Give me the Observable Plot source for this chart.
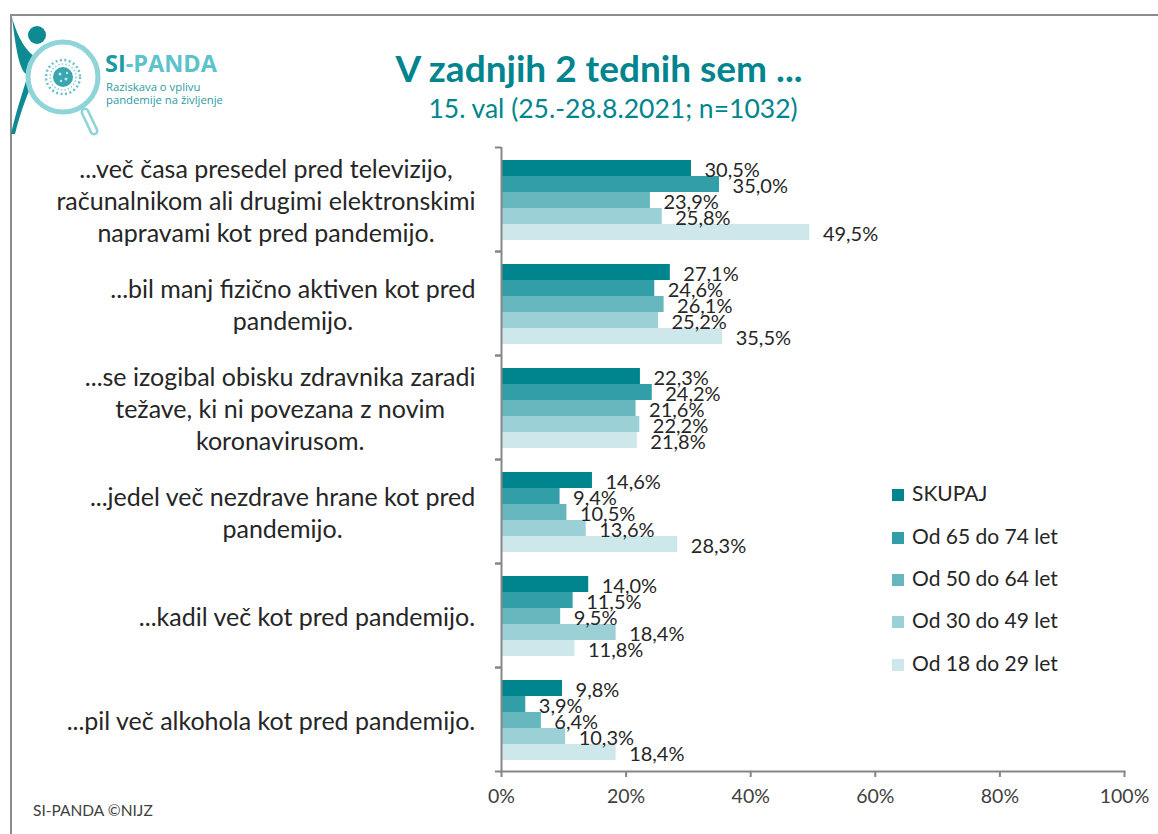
<!DOCTYPE html>
<html><head><meta charset="utf-8">
<script src="https://cdn.jsdelivr.net/npm/d3@7"></script>
<script src="https://cdn.jsdelivr.net/npm/@observablehq/plot@0.6"></script>
<style>
body{margin:0;background:#fff;font-family:Lato,"Open Sans",sans-serif;}
#wrap{position:relative;width:1158px;height:834px;overflow:hidden;background:#fff;}
#chart{position:absolute;left:0;top:0;}
.frameTop{position:absolute;left:10px;top:14px;width:1148px;height:2px;background:#8c8c8c;}
.frameLeft{position:absolute;left:10px;top:14px;width:2px;height:820px;background:#8c8c8c;}
#title{position:absolute;left:299px;width:600px;top:46px;text-align:center;color:#00858f;font-weight:bold;font-size:37px;line-height:44px;}
#subtitle{position:absolute;left:313px;width:600px;top:92px;text-align:center;color:#00858f;font-size:26.5px;line-height:32px;}
#footer{position:absolute;left:33px;top:801px;font-size:15.5px;color:#404040;}
#legend{position:absolute;left:892px;top:0;}
.lg{position:absolute;left:0;white-space:nowrap;font-size:21px;color:#262626;height:24px;line-height:24px;}
.lg span{display:inline-block;width:12px;height:12px;margin-right:8px;vertical-align:0px;}
#logo{position:absolute;left:0;top:0;}
</style></head>
<body><div id="wrap">
<div id="chart"></div>
<div class="frameTop"></div><div class="frameLeft"></div>
<svg id="logo" width="240" height="140" viewBox="0 0 240 140">
  <path d="M12,17 C18,40 28,52 34,56 C30,64 27,70 26,74 C20,70 16,52 12,17 Z" fill="#0e8a93"/>
  <path d="M27,78 C22,94 16,112 11,134 L15,134 C20,114 26,98 31,86 Z" fill="#0e8a93"/>
  <circle cx="37" cy="35" r="9" fill="#0e8a93"/>
  <circle cx="63" cy="77" r="35" fill="#fff" stroke="#8fd4d9" stroke-width="5"/>
  <line x1="85" y1="112" x2="94" y2="131" stroke="#8fd4d9" stroke-width="9" stroke-linecap="round"/>
  <line x1="85" y1="112" x2="94" y2="131" stroke="#fff" stroke-width="4" stroke-linecap="round"/>
  <circle cx="63" cy="77" r="17" fill="none" stroke="#6cc0c7" stroke-width="2.5" stroke-dasharray="2 2.5"/>
  <circle cx="63" cy="77" r="13" fill="none" stroke="#8fd0d5" stroke-width="1.5" stroke-dasharray="1.5 2"/>
  <circle cx="63" cy="77" r="10" fill="#3aa6ae"/>
  <circle cx="60" cy="74" r="1.5" fill="#bfe6e9"/><circle cx="66" cy="79" r="1.5" fill="#bfe6e9"/><circle cx="61" cy="81" r="1.2" fill="#bfe6e9"/><circle cx="67" cy="73" r="1.2" fill="#bfe6e9"/>
  <text x="105" y="72" font-family="'Open Sans',Lato,sans-serif" font-weight="bold" font-size="23.5"><tspan fill="#1a9aa3">SI</tspan><tspan fill="#5cc3cb">-PANDA</tspan></text>
  <text x="106" y="91" font-family="'Open Sans',Lato,sans-serif" font-size="11.3" fill="#2a9ca4">Raziskava o vplivu</text>
  <text x="106" y="104" font-family="'Open Sans',Lato,sans-serif" font-size="11.3" fill="#2a9ca4">pandemije na življenje</text>
</svg>
<div id="title">V zadnjih 2 tednih sem ...</div>
<div id="subtitle">15. val (25.-28.8.2021; n=1032)</div>
<div id="legend"></div>
<div id="footer">SI-PANDA ©NIJZ</div>
</div>
<script>
const categories = [
  "...več časa presedel pred televizijo,\nračunalnikom ali drugimi elektronskimi\nnapravami kot pred pandemijo.",
  "...bil manj fizično aktiven kot pred\npandemijo.",
  "...se izogibal obisku zdravnika zaradi\ntežave, ki ni povezana z novim\nkoronavirusom.",
  "...jedel več nezdrave hrane kot pred\npandemijo.",
  "...kadil več kot pred pandemijo.",
  "...pil več alkohola kot pred pandemijo."
];
const series = ["SKUPAJ", "Od 65 do 74 let", "Od 50 do 64 let", "Od 30 do 49 let", "Od 18 do 29 let"];
const skupaj   = [30.5, 27.1, 22.3, 14.6, 14.0, 9.8];
const age65_74 = [35.0, 24.6, 24.2, 9.4, 11.5, 3.9];
const age50_64 = [23.9, 26.1, 21.6, 10.5, 9.5, 6.4];
const age30_49 = [25.8, 25.2, 22.2, 13.6, 18.4, 10.3];
const age18_29 = [49.5, 35.5, 21.8, 28.3, 11.8, 18.4];
const xTicks = [0, 20, 40, 60, 80, 100];
const colors = ["#00858f", "#329ea7", "#66b6be", "#9bd0d6", "#cee7ea"];

const seriesValues = [skupaj, age65_74, age50_64, age30_49, age18_29];
const data = [];
categories.forEach((c, ci) => series.forEach((s, si) => data.push({category: c, series: s, value: seriesValues[si][ci]})));
const fmt = v => v.toFixed(1).replace(".", ",") + "%";

const catFont = 25;
const ctx = document.createElement("canvas").getContext("2d");
ctx.font = `${catFont}px Lato`;
const blockWidth = c => Math.max(...c.split("\n").map(l => ctx.measureText(l).width));

const axisColor = "#868686";
const labelMarks = categories.map(c => Plot.text([c], {
  fy: d => d, text: d => d, frameAnchor: "left", textAnchor: "middle",
  dx: -(26 + blockWidth(c) / 2), fontSize: catFont, lineHeight: 1.28, fill: "#262626"
}));

const chart = Plot.plot({
  width: 1158, height: 834,
  marginTop: 147, marginBottom: 63, marginLeft: 501, marginRight: 34,
  style: {fontFamily: "Lato, 'Open Sans', sans-serif", background: "transparent"},
  x: {domain: [0, 100]},
  y: {domain: series, paddingInner: 0, paddingOuter: 0.7, align: 0.55, axis: null},
  fy: {domain: categories, padding: 0, axis: null},
  color: {domain: series, range: colors},
  marks: [
    Plot.barX(data, {fy: "category", y: "series", x: "value", fill: "series"}),
    Plot.text(data, {fy: "category", y: "series", x: "value", text: d => fmt(d.value), dx: 13, dy: 2, textAnchor: "start", fontSize: 20, fill: "#262626"}),
    Plot.ruleX([0], {stroke: axisColor, strokeWidth: 2}),
    Plot.frame({anchor: "bottom", facetAnchor: "bottom", stroke: axisColor, strokeWidth: 2}),
    Plot.axisX({ticks: xTicks, tickFormat: d => d + "%", tickSize: 6, tickPadding: 12, fontSize: 19.5, stroke: axisColor, strokeWidth: 2, fill: "#404040", label: null}),
    Plot.axisFy({anchor: "left", tickSize: 6, tickFormat: () => "", dy: -52, stroke: axisColor, strokeWidth: 2, label: null}),
    Plot.axisFy([categories[categories.length - 1]], {anchor: "left", tickSize: 6, tickFormat: () => "", dy: 52, stroke: axisColor, strokeWidth: 2, label: null}),
    ...labelMarks
  ]
});
document.getElementById("chart").appendChild(chart);

const legend = document.getElementById("legend");
const legendTops = [481, 524, 566, 608, 651];
series.forEach((s, i) => {
  const d = document.createElement("div");
  d.className = "lg";
  d.style.top = legendTops[i] + "px";
  d.innerHTML = `<span style="background:${colors[i]}"></span>${s}`;
  legend.appendChild(d);
});
</script>
</body></html>
